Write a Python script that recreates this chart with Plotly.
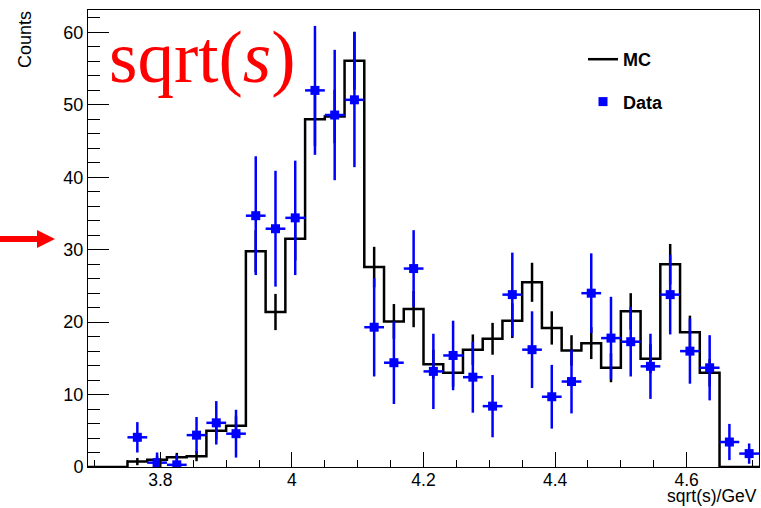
import plotly.graph_objects as go

# ---------------- data ----------------
bin_width = 0.03
bin_centers = [3.705, 3.735, 3.765, 3.795, 3.825, 3.855, 3.885, 3.915, 3.945, 3.975,
               4.005, 4.035, 4.065, 4.095, 4.125, 4.155, 4.185, 4.215, 4.245, 4.275,
               4.305, 4.335, 4.365, 4.395, 4.425, 4.455, 4.485, 4.515, 4.545, 4.575,
               4.605, 4.635, 4.665, 4.695]

mc_counts = [0, 0, 0.75, 1.0, 1.35, 1.5, 5.0, 5.7, 29.8, 21.4,
             31.5, 48.0, 48.4, 56.1, 27.6, 20.1, 21.8, 14.2, 13.0, 16.2,
             17.7, 20.2, 25.5, 19.2, 16.1, 17.1, 13.7, 21.5, 14.95, 28.0,
             18.6, 13.0, 0, 0]
mc_errors = [0, 0, 0.5, 0.55, 0.6, 0.7, 1.2, 1.3, 2.9, 2.5,
             3.0, 3.7, 3.7, 4.0, 2.8, 2.4, 2.5, 2.0, 1.9, 2.1,
             2.2, 2.4, 2.7, 2.3, 2.1, 2.2, 2.0, 2.5, 2.0, 2.8,
             2.3, 1.9, 0, 0]

data_x = bin_centers[2:]
data_counts = [4.1, 0.6, 0.3, 4.4, 6.1, 4.6, 34.7, 32.9, 34.4, 52.0,
               48.6, 50.7, 19.3, 14.4, 27.4, 13.2, 15.4, 12.4, 8.4, 23.8,
               16.2, 9.7, 11.8, 24.0, 17.8, 17.3, 13.9, 23.8, 16.0, 13.7,
               3.45, 1.85]
data_errors = [2.1, 1.4, 1.4, 2.5, 3.0, 3.3, 8.2, 8.0, 7.9, 8.9,
               9.0, 9.3, 6.8, 5.7, 5.3, 5.2, 4.8, 4.9, 4.3, 5.8,
               5.3, 4.4, 4.4, 5.5, 5.7, 4.8, 4.5, 5.5, 4.5, 4.5,
               2.5, 1.4]

x_range = [3.69, 4.71]
y_range = [0, 63.1]
x_tickvals = [3.8, 4.0, 4.2, 4.4, 4.6]
x_ticktext = ["3.8", "4", "4.2", "4.4", "4.6"]
y_tickvals = [0, 10, 20, 30, 40, 50, 60]

# ---------------- derived step outline for the MC histogram ----------------
edges = [c - bin_width / 2 for c in bin_centers] + [bin_centers[-1] + bin_width / 2]
step_y = list(mc_counts) + [mc_counts[-1]]

mc_err_x = [c for c, v in zip(bin_centers, mc_counts) if v > 0]
mc_err_y = [v for v in mc_counts if v > 0]
mc_err_e = [e for e, v in zip(mc_errors, mc_counts) if v > 0]

fig = go.Figure()

fig.add_trace(go.Scatter(
    x=edges, y=step_y, mode="lines", line=dict(shape="hv", color="black", width=2.5),
    name="MC", legendgroup="mc"))

fig.add_trace(go.Scatter(
    x=mc_err_x, y=mc_err_y, mode="markers", marker=dict(size=0.1, color="black", opacity=0),
    error_y=dict(type="data", array=mc_err_e, color="black", thickness=2.5, width=0),
    showlegend=False, hoverinfo="skip"))

fig.add_trace(go.Scatter(
    x=data_x, y=data_counts, mode="markers",
    marker=dict(symbol="square", size=9, color="#0000ff"),
    error_y=dict(type="data", array=data_errors, color="#0000ff", thickness=2.5, width=0),
    error_x=dict(type="constant", value=bin_width / 2, color="#0000ff", thickness=2.5, width=0),
    name="Data", legendgroup="data"))

# ---------------- layout ----------------
W, H = 761, 508
L, R, T, B = 88, 2, 10, 41
pw, ph = W - L - R, H - T - B


def px(x):
    return (x - L) / pw


def py(y):
    return (H - B - y) / ph


font_main = "Liberation Sans, Arial, Helvetica, sans-serif"

fig.update_layout(
    width=W, height=H,
    margin=dict(l=L, r=R, t=T, b=B, pad=0),
    paper_bgcolor="white", plot_bgcolor="white",
    font=dict(family=font_main, size=18, color="black"),
    showlegend=True,
    legend=dict(
        x=px(583), y=py(41), xanchor="left", yanchor="top",
        bgcolor="rgba(0,0,0,0)", borderwidth=0,
        font=dict(family=font_main, size=18, color="black", weight="bold"),
        traceorder="grouped", tracegroupgap=16, itemwidth=30,
    ),
    xaxis=dict(
        range=x_range, tickvals=x_tickvals, ticktext=x_ticktext,
        ticks="inside", ticklen=15, tickwidth=1, tickcolor="black",
        minor=dict(dtick=0.05, tick0=3.7, ticks="inside", ticklen=7, tickwidth=1, tickcolor="black"),
        showline=True, linecolor="black", linewidth=1, mirror=True,
        showgrid=False, zeroline=False,
        tickfont=dict(size=17.5), ticklabelstandoff=-3,
    ),
    yaxis=dict(
        range=y_range, tickvals=y_tickvals,
        ticks="inside", ticklen=21, tickwidth=1, tickcolor="black",
        minor=dict(dtick=2, tick0=0, ticks="inside", ticklen=12, tickwidth=1, tickcolor="black"),
        showline=True, linecolor="black", linewidth=1, mirror=True,
        showgrid=False, zeroline=False,
        tickfont=dict(size=18),
    ),
)

annotations = [
    # y axis title, placed at top like ROOT
    dict(text="Counts", x=px(25), y=py(40), xref="paper", yref="paper",
         xanchor="center", yanchor="middle", textangle=-90, showarrow=False,
         font=dict(family=font_main, size=18, color="black")),
    # x axis title, right aligned
    dict(text="sqrt(s)/GeV", x=px(759), y=py(508), xref="paper", yref="paper",
         xanchor="right", yanchor="bottom", showarrow=False,
         font=dict(family=font_main, size=17.5, color="black")),
    # big red label
    dict(text="sqrt(<i>s</i>)", x=px(202), y=py(58), xref="paper", yref="paper",
         xanchor="center", yanchor="middle", showarrow=False,
         font=dict(family="Liberation Serif, Times New Roman, serif", size=73, color="#ff0000")),
]
fig.update_layout(annotations=annotations)

# red arrow on the left
shapes = [
    dict(type="rect", xref="paper", yref="paper",
         x0=px(0), x1=px(38), y0=py(236), y1=py(242),
         fillcolor="#ff0000", line=dict(width=0)),
    dict(type="path", xref="paper", yref="paper",
         path=f"M {px(37)} {py(230)} L {px(55)} {py(239)} L {px(37)} {py(248)} Z",
         fillcolor="#ff0000", line=dict(width=0)),
]
fig.update_layout(shapes=shapes)

fig.write_html("out.html")
